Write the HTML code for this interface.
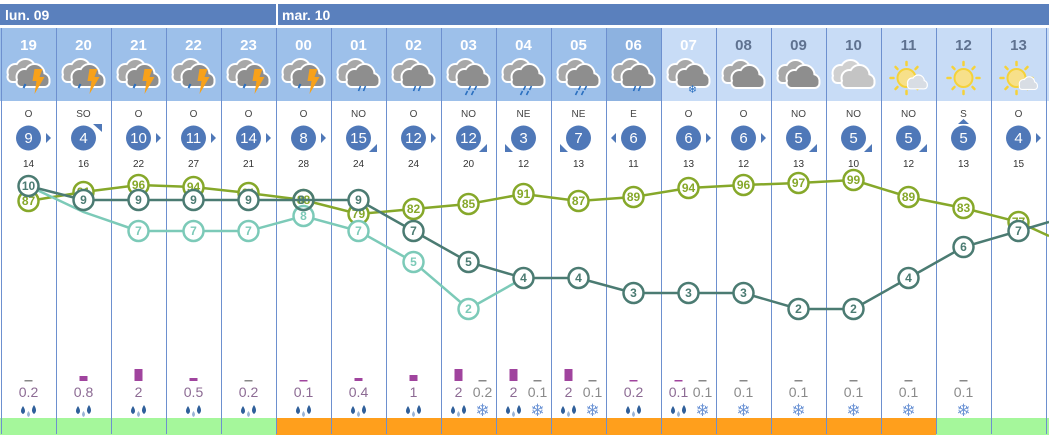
<!DOCTYPE html>
<html><head><meta charset="utf-8"><style>
html,body{margin:0;padding:0;background:#fff;width:1049px;height:440px;overflow:hidden}
svg{display:block}
text{font-family:"Liberation Sans",sans-serif}
</style></head><body>
<svg width="1049" height="440" viewBox="0 0 1049 440" xmlns="http://www.w3.org/2000/svg">
<defs>
<g id="cs"><circle cx="-7" cy="-2" r="7"/><circle cx="3" cy="-5" r="9"/><circle cx="11" cy="1" r="6"/><rect x="-14" y="-1" width="31" height="8" rx="4"/></g>
<g id="cl2"><use href="#cs" transform="translate(-6,-3)" fill="#fff" stroke="#fff" stroke-width="4"/><use href="#cs" transform="translate(-6,-3)" fill="#a8a8a8"/><use href="#cs" transform="translate(3,2)" fill="#fff" stroke="#fff" stroke-width="4"/><use href="#cs" transform="translate(3,2)" fill="#8e8e8e"/></g>
<g id="cl2l"><use href="#cs" transform="translate(-6,-3)" fill="#fff" stroke="#fff" stroke-width="4"/><use href="#cs" transform="translate(-6,-3)" fill="#d0d0d0"/><use href="#cs" transform="translate(3,2)" fill="#fff" stroke="#fff" stroke-width="4"/><use href="#cs" transform="translate(3,2)" fill="#c4c4c4"/></g>
<g id="thu"><use href="#cl2"/><polygon points="6,-8 14,-8 11,0 16,0 6,17 8,4 4,4" fill="#f7a11a"/><path d="M-3,7 l-2,4" stroke="#2a6fc0" stroke-width="2"/></g>
<g id="rain"><use href="#cl2"/><path d="M2,9 l-2,5 M7,9 l-2,5" stroke="#2a6fc0" stroke-width="1.6"/></g>
<g id="rain3"><use href="#cl2"/><path d="M2,9 l-2,4 M8,9 l-2,4 M-1,14 l-2,4 M5,14 l-2,4" stroke="#2a6fc0" stroke-width="1.6"/></g>
<g id="snowc"><use href="#cl2"/><text x="4" y="16" font-size="11" fill="#2a6fc0" text-anchor="middle">❄</text></g>
<g id="sun"><g stroke="#f5d23a" stroke-width="2.5" stroke-linecap="round"><path d="M0,-16v3M0,13v3M-16,0h3M13,0h3M-11,-11l2,2M9,9l2,2M-11,11l2,-2M9,-9l2,-2"/></g><circle r="9" fill="#f7e08a" stroke="#f5d23a" stroke-width="2"/></g>
<g id="drops"><path d="M-7,-8 q-4,6 0,8 q4,-2 0,-8z M4,-9 q-4,6 0,9 q4,-3 0,-9z" fill="#2f5f9a"/><path d="M-1.5,-3 q-3,4 0,6 q3,-2 0,-6z" fill="#9ab4d4"/></g>
</defs>

<rect x="0" y="4" width="1049" height="21" fill="#5a80bd"/>
<rect x="276" y="4" width="2" height="21" fill="#fff"/>
<text x="5" y="20" font-size="14" font-weight="bold" fill="#fff">lun. 09</text>
<text x="282" y="20" font-size="14" font-weight="bold" fill="#fff">mar. 10</text>

<rect x="0" y="28" width="661" height="73" fill="#9dc0ea"/>
<rect x="606" y="28" width="55" height="73" fill="#8db2e0"/>
<rect x="661" y="28" width="388" height="73" fill="#c8dcf6"/>

<rect x="0" y="418" width="276" height="17" fill="#a5f79b"/>
<rect x="276" y="418" width="661" height="17" fill="#ff9f1c"/>
<rect x="936" y="418" width="113" height="17" fill="#a5f79b"/>

<g stroke="#6d90cf" stroke-width="1">
<path d="M1.5,28V434M56.5,28V434M111.5,28V434M166.5,28V434M221.5,28V434M276.5,28V434M331.5,28V434M386.5,28V434M441.5,28V434M496.5,28V434M551.5,28V434M606.5,28V434M661.5,28V434M716.5,28V434M771.5,28V434M826.5,28V434M881.5,28V434M936.5,28V434M991.5,28V434M1046.5,28V434"/>
</g>

<g font-size="15" font-weight="bold" text-anchor="middle" fill="#fff">
<text x="28.5" y="50">19</text><text x="83.5" y="50">20</text><text x="138.5" y="50">21</text><text x="193.5" y="50">22</text><text x="248.5" y="50">23</text><text x="303.5" y="50">00</text><text x="358.5" y="50">01</text><text x="413.5" y="50">02</text><text x="468.5" y="50">03</text><text x="523.5" y="50">04</text><text x="578.5" y="50">05</text><text x="633.5" y="50">06</text><text x="688.5" y="50">07</text>
</g>
<g font-size="15" font-weight="bold" text-anchor="middle" fill="#5f7290">
<text x="743.5" y="50">08</text><text x="798.5" y="50">09</text><text x="853.5" y="50">10</text><text x="908.5" y="50">11</text><text x="963.5" y="50">12</text><text x="1018.5" y="50">13</text>
</g>

<use href="#thu" x="28.5" y="77"/><use href="#thu" x="83.5" y="77"/><use href="#thu" x="138.5" y="77"/><use href="#thu" x="193.5" y="77"/><use href="#thu" x="248.5" y="77"/><use href="#thu" x="303.5" y="77"/>
<use href="#rain" x="358.5" y="77"/><use href="#rain" x="413.5" y="77"/><use href="#rain3" x="468.5" y="77"/><use href="#rain3" x="523.5" y="77"/><use href="#rain3" x="578.5" y="77"/><use href="#rain" x="633.5" y="77"/>
<use href="#snowc" x="688.5" y="77"/><use href="#cl2" x="743.5" y="78"/><use href="#cl2" x="798.5" y="78"/><use href="#cl2l" x="853.5" y="78"/>
<g transform="translate(908.5,78)"><use href="#sun" x="-2"/><use href="#cs" transform="translate(8,6) scale(0.6)" fill="#fff" stroke="#fff" stroke-width="4"/><use href="#cs" transform="translate(8,6) scale(0.6)" fill="#d8dde4"/></g>
<use href="#sun" x="963.5" y="78"/>
<g transform="translate(1018.5,78)"><use href="#sun" x="-2"/><use href="#cs" transform="translate(9,7) scale(0.55)" fill="#fff" stroke="#fff" stroke-width="4"/><use href="#cs" transform="translate(9,7) scale(0.55)" fill="#d8dde4"/></g>

<g font-size="10" text-anchor="middle" fill="#444">
<text x="28.5" y="117">O</text><text x="83.5" y="117">SO</text><text x="138.5" y="117">O</text><text x="193.5" y="117">O</text><text x="248.5" y="117">O</text><text x="303.5" y="117">O</text><text x="358.5" y="117">NO</text><text x="413.5" y="117">O</text><text x="468.5" y="117">NO</text><text x="523.5" y="117">NE</text><text x="578.5" y="117">NE</text><text x="633.5" y="117">E</text><text x="688.5" y="117">O</text><text x="743.5" y="117">O</text><text x="798.5" y="117">NO</text><text x="853.5" y="117">NO</text><text x="908.5" y="117">NO</text><text x="963.5" y="117">S</text><text x="1018.5" y="117">O</text>
</g>
<g fill="#4f78b8">
<circle cx="28.5" cy="138" r="12.5"/><circle cx="83.5" cy="138" r="12.5"/><circle cx="138.5" cy="138" r="12.5"/><circle cx="193.5" cy="138" r="12.5"/><circle cx="248.5" cy="138" r="12.5"/><circle cx="303.5" cy="138" r="12.5"/><circle cx="358.5" cy="138" r="12.5"/><circle cx="413.5" cy="138" r="12.5"/><circle cx="468.5" cy="138" r="12.5"/><circle cx="523.5" cy="138" r="12.5"/><circle cx="578.5" cy="138" r="12.5"/><circle cx="633.5" cy="138" r="12.5"/><circle cx="688.5" cy="138" r="12.5"/><circle cx="743.5" cy="138" r="12.5"/><circle cx="798.5" cy="138" r="12.5"/><circle cx="853.5" cy="138" r="12.5"/><circle cx="908.5" cy="138" r="12.5"/><circle cx="963.5" cy="138" r="12.5"/><circle cx="1018.5" cy="138" r="12.5"/>
<polygon points="46,133 51,138 46,143"/>
<polygon points="93,124 102,124 102,132"/>
<polygon points="156,133 161,138 156,143"/>
<polygon points="211,133 216,138 211,143"/>
<polygon points="266,133 271,138 266,143"/>
<polygon points="321,133 326,138 321,143"/>
<polygon points="377,144 377,152 369,152"/>
<polygon points="431,133 436,138 431,143"/>
<polygon points="487,144 487,152 479,152"/>
<polygon points="505,144 505,152 513,152"/>
<polygon points="560,144 560,152 568,152"/>
<polygon points="616,133 611,138 616,143"/>
<polygon points="706,133 711,138 706,143"/>
<polygon points="761,133 766,138 761,143"/>
<polygon points="817,144 817,152 809,152"/>
<polygon points="872,144 872,152 864,152"/>
<polygon points="927,144 927,152 919,152"/>
<polygon points="958,124 969,124 963.5,119"/>
<polygon points="1036,133 1041,138 1036,143"/>
</g>
<g font-size="15" text-anchor="middle" fill="#fff">
<text x="28.5" y="143">9</text><text x="83.5" y="143">4</text><text x="138.5" y="143">10</text><text x="193.5" y="143">11</text><text x="248.5" y="143">14</text><text x="303.5" y="143">8</text><text x="358.5" y="143">15</text><text x="413.5" y="143">12</text><text x="468.5" y="143">12</text><text x="523.5" y="143">3</text><text x="578.5" y="143">7</text><text x="633.5" y="143">6</text><text x="688.5" y="143">6</text><text x="743.5" y="143">6</text><text x="798.5" y="143">5</text><text x="853.5" y="143">5</text><text x="908.5" y="143">5</text><text x="963.5" y="143">5</text><text x="1018.5" y="143">4</text>
</g>
<g font-size="10" text-anchor="middle" fill="#333">
<text x="28.5" y="167">14</text><text x="83.5" y="167">16</text><text x="138.5" y="167">22</text><text x="193.5" y="167">27</text><text x="248.5" y="167">21</text><text x="303.5" y="167">28</text><text x="358.5" y="167">24</text><text x="413.5" y="167">24</text><text x="468.5" y="167">20</text><text x="523.5" y="167">12</text><text x="578.5" y="167">13</text><text x="633.5" y="167">11</text><text x="688.5" y="167">13</text><text x="743.5" y="167">12</text><text x="798.5" y="167">13</text><text x="853.5" y="167">10</text><text x="908.5" y="167">12</text><text x="963.5" y="167">13</text><text x="1018.5" y="167">15</text>
</g>

<polyline fill="none" stroke="#86a82a" stroke-width="2.5" points="28.5,201 83.5,192 138.5,185 193.5,187 248.5,193 303.5,200 358.5,214 413.5,209 468.5,204 523.5,194 578.5,201 633.5,197 688.5,188 743.5,185 798.5,183 853.5,180 908.5,197 963.5,208 1018.5,222 1049,236"/>
<g fill="#fff" stroke="#86a82a" stroke-width="2.5">
<circle cx="28.5" cy="201" r="10"/><circle cx="83.5" cy="192" r="10"/><circle cx="138.5" cy="185" r="10"/><circle cx="193.5" cy="187" r="10"/><circle cx="248.5" cy="193" r="10"/><circle cx="303.5" cy="200" r="10"/><circle cx="358.5" cy="214" r="10"/><circle cx="413.5" cy="209" r="10"/><circle cx="468.5" cy="204" r="10"/><circle cx="523.5" cy="194" r="10"/><circle cx="578.5" cy="201" r="10"/><circle cx="633.5" cy="197" r="10"/><circle cx="688.5" cy="188" r="10"/><circle cx="743.5" cy="185" r="10"/><circle cx="798.5" cy="183" r="10"/><circle cx="853.5" cy="180" r="10"/><circle cx="908.5" cy="197" r="10"/><circle cx="963.5" cy="208" r="10"/><circle cx="1018.5" cy="222" r="10"/>
</g>
<g font-size="12" font-weight="bold" text-anchor="middle" fill="#86a82a">
<text x="28.5" y="205">87</text><text x="83.5" y="196">91</text><text x="138.5" y="189">96</text><text x="193.5" y="191">94</text><text x="248.5" y="197">91</text><text x="303.5" y="204">88</text><text x="358.5" y="218">79</text><text x="413.5" y="213">82</text><text x="468.5" y="208">85</text><text x="523.5" y="198">91</text><text x="578.5" y="205">87</text><text x="633.5" y="201">89</text><text x="688.5" y="192">94</text><text x="743.5" y="189">96</text><text x="798.5" y="187">97</text><text x="853.5" y="184">99</text><text x="908.5" y="201">89</text><text x="963.5" y="212">83</text><text x="1018.5" y="226">77</text>
</g>

<polyline fill="none" stroke="#7ccab8" stroke-width="2.5" points="28.5,186 83.5,212 138.5,231 193.5,231 248.5,231 303.5,216 358.5,231 413.5,262 468.5,309 523.5,278"/>
<g fill="#fff" stroke="#7ccab8" stroke-width="2.5">
<circle cx="138.5" cy="231" r="10"/><circle cx="193.5" cy="231" r="10"/><circle cx="248.5" cy="231" r="10"/><circle cx="303.5" cy="216" r="10"/><circle cx="358.5" cy="231" r="10"/><circle cx="413.5" cy="262" r="10"/><circle cx="468.5" cy="309" r="10"/>
</g>
<g font-size="12" font-weight="bold" text-anchor="middle" fill="#7ccab8">
<text x="138.5" y="235">7</text><text x="193.5" y="235">7</text><text x="248.5" y="235">7</text><text x="303.5" y="220">8</text><text x="358.5" y="235">7</text><text x="413.5" y="266">5</text><text x="468.5" y="313">2</text>
</g>

<polyline fill="none" stroke="#4b7b72" stroke-width="2.5" points="28.5,186 83.5,200 138.5,200 193.5,200 248.5,200 303.5,200 358.5,200 413.5,231 468.5,262 523.5,278 578.5,278 633.5,293 688.5,293 743.5,293 798.5,309 853.5,309 908.5,278 963.5,247 1018.5,231 1049,222"/>
<g fill="#fff" stroke="#4b7b72" stroke-width="2.5">
<circle cx="28.5" cy="186" r="10"/><circle cx="83.5" cy="200" r="10"/><circle cx="138.5" cy="200" r="10"/><circle cx="193.5" cy="200" r="10"/><circle cx="248.5" cy="200" r="10"/><circle cx="303.5" cy="200" r="10" fill="none"/><circle cx="358.5" cy="200" r="10"/><circle cx="413.5" cy="231" r="10"/><circle cx="468.5" cy="262" r="10"/><circle cx="523.5" cy="278" r="10"/><circle cx="578.5" cy="278" r="10"/><circle cx="633.5" cy="293" r="10"/><circle cx="688.5" cy="293" r="10"/><circle cx="743.5" cy="293" r="10"/><circle cx="798.5" cy="309" r="10"/><circle cx="853.5" cy="309" r="10"/><circle cx="908.5" cy="278" r="10"/><circle cx="963.5" cy="247" r="10"/><circle cx="1018.5" cy="231" r="10"/>
</g>
<g font-size="12" font-weight="bold" text-anchor="middle" fill="#4b7b72">
<text x="28.5" y="190">10</text><text x="83.5" y="204">9</text><text x="138.5" y="204">9</text><text x="193.5" y="204">9</text><text x="248.5" y="204">9</text><text x="301.5" y="204">8</text><text x="358.5" y="204">9</text><text x="413.5" y="235">7</text><text x="468.5" y="266">5</text><text x="523.5" y="282">4</text><text x="578.5" y="282">4</text><text x="633.5" y="297">3</text><text x="688.5" y="297">3</text><text x="743.5" y="297">3</text><text x="798.5" y="313">2</text><text x="853.5" y="313">2</text><text x="908.5" y="282">4</text><text x="963.5" y="251">6</text><text x="1018.5" y="235">7</text>
</g>

<g fill="#a0449e">
<rect x="79.5" y="376" width="8" height="5"/><rect x="134.5" y="369" width="8" height="12"/><rect x="189.5" y="378" width="8" height="3"/><rect x="354.5" y="378" width="8" height="3"/><rect x="409.5" y="375" width="8" height="6"/>
<rect x="454.5" y="369" width="8" height="12"/><rect x="509.5" y="369" width="8" height="12"/><rect x="564.5" y="369" width="8" height="12"/>
</g>
<g fill="#888">
<rect x="24.5" y="380" width="8" height="1.5"/><rect x="244.5" y="380" width="8" height="1.5"/><rect x="299.5" y="380" width="8" height="1.5" fill="#a0449e"/>
<rect x="478.5" y="380" width="8" height="1.5"/><rect x="533.5" y="380" width="8" height="1.5"/><rect x="588.5" y="380" width="8" height="1.5"/>
<rect x="629.5" y="380" width="8" height="1.5" fill="#a0449e"/><rect x="674.5" y="380" width="8" height="1.5" fill="#a0449e"/><rect x="698.5" y="380" width="8" height="1.5"/>
<rect x="739.5" y="380" width="8" height="1.5"/><rect x="794.5" y="380" width="8" height="1.5"/><rect x="849.5" y="380" width="8" height="1.5"/><rect x="904.5" y="380" width="8" height="1.5"/><rect x="959.5" y="380" width="8" height="1.5"/>
</g>
<g font-size="14" text-anchor="middle" fill="#8c6a93">
<text x="28.5" y="397">0.2</text><text x="83.5" y="397">0.8</text><text x="138.5" y="397">2</text><text x="193.5" y="397">0.5</text><text x="248.5" y="397">0.2</text><text x="303.5" y="397">0.1</text><text x="358.5" y="397">0.4</text><text x="413.5" y="397">1</text>
<text x="458.5" y="397">2</text><text x="513.5" y="397">2</text><text x="568.5" y="397">2</text><text x="633.5" y="397">0.2</text><text x="678.5" y="397">0.1</text>
</g>
<g font-size="14" text-anchor="middle" fill="#8a8a8a">
<text x="482.5" y="397">0.2</text><text x="537.5" y="397">0.1</text><text x="592.5" y="397">0.1</text><text x="702.5" y="397">0.1</text>
<text x="743.5" y="397">0.1</text><text x="798.5" y="397">0.1</text><text x="853.5" y="397">0.1</text><text x="908.5" y="397">0.1</text><text x="963.5" y="397">0.1</text>
</g>
<use href="#drops" x="30" y="414"/><use href="#drops" x="85" y="414"/><use href="#drops" x="140" y="414"/><use href="#drops" x="195" y="414"/><use href="#drops" x="250" y="414"/><use href="#drops" x="305" y="414"/><use href="#drops" x="360" y="414"/><use href="#drops" x="415" y="414"/><use href="#drops" x="460" y="414"/><use href="#drops" x="515" y="414"/><use href="#drops" x="570" y="414"/><use href="#drops" x="635" y="414"/><use href="#drops" x="680" y="414"/>
<g font-size="17" text-anchor="middle" fill="#6f96d6">
<text x="482.5" y="416">❄</text><text x="537.5" y="416">❄</text><text x="592.5" y="416">❄</text><text x="702.5" y="416">❄</text><text x="743.5" y="416">❄</text><text x="798.5" y="416">❄</text><text x="853.5" y="416">❄</text><text x="908.5" y="416">❄</text><text x="963.5" y="416">❄</text>
</g>
</svg>
</body></html>
